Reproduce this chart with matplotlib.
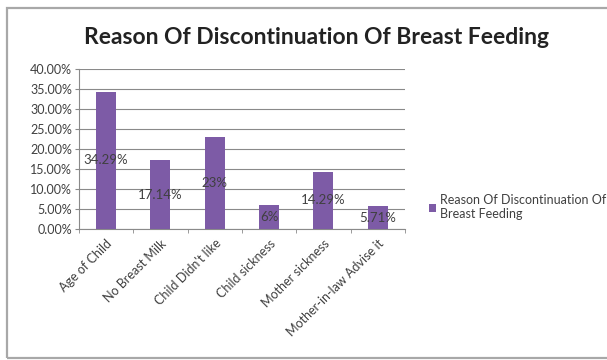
import matplotlib.pyplot as plt
from matplotlib.patches import Rectangle, Patch
import numpy as np

plt.rcParams['font.family'] = ['Lato', 'DejaVu Sans']

categories = ["Age of Child", "No Breast Milk", "Child Didn't like",
              "Child sickness", "Mother sickness", "Mother-in-law Advise it"]
percent = [34.29, 17.14, 23, 6, 14.29, 5.71]
series_name = "Reason Of Discontinuation Of Breast Feeding"
yticks = [0, 5, 10, 15, 20, 25, 30, 35, 40]

bar_color = '#7d5ba6'
grid_color = '#8a8a8a'
text_color = '#404040'

fig = plt.figure(figsize=(6.07, 3.60), dpi=100)
ax = fig.add_axes([0.130, 0.364, 0.537, 0.444])

x = np.arange(len(categories))
ax.bar(x, percent, width=0.37, color=bar_color, zorder=3)

for xi, v in zip(x, percent):
    ax.text(xi, v / 2, f"{v:g}%", ha='center', va='center',
            fontsize=9.5, color=text_color, zorder=4)

ax.set_xlim(-0.5, len(categories) - 0.5)
ax.set_ylim(0, 40)
ax.set_yticks(yticks)
ax.set_yticklabels([f"{t:.2f}%" for t in yticks], fontsize=9, color=text_color)
ax.yaxis.grid(True, color=grid_color, linewidth=0.8, zorder=0)

ax.set_xticks(x)
ax.set_xticklabels(categories, rotation=45, ha='right', rotation_mode='anchor',
                   fontsize=9, color=text_color)
ax.set_xticks(np.arange(-0.5, len(categories)), minor=True)
ax.tick_params(axis='x', which='major', length=0, pad=6)
ax.tick_params(axis='x', which='minor', length=3, color=grid_color)
ax.tick_params(axis='y', length=3, color=grid_color, pad=2)

for side in ['top', 'right']:
    ax.spines[side].set_visible(False)
for side in ['left', 'bottom']:
    ax.spines[side].set_color(grid_color)
    ax.spines[side].set_linewidth(0.8)

fig.text(0.521, 0.895, series_name, ha='center', va='center',
         fontsize=16.5, fontweight='bold', color='#222222')

handle = Patch(facecolor=bar_color, edgecolor='none')
fig.legend([handle], ["Reason Of Discontinuation Of\nBreast Feeding"],
           loc='center left', bbox_to_anchor=(0.688, 0.425), frameon=False,
           fontsize=9, handlelength=0.6, handleheight=0.6, handletextpad=0.3,
           labelcolor=text_color)

# outer chart frame
fig.patches.append(Rectangle((0.0115, 0.006), 1.2, 0.972, transform=fig.transFigure,
                             fill=False, edgecolor='#a8a8a8', linewidth=1.6))

fig.savefig('out.png', dpi=100, facecolor='white')
